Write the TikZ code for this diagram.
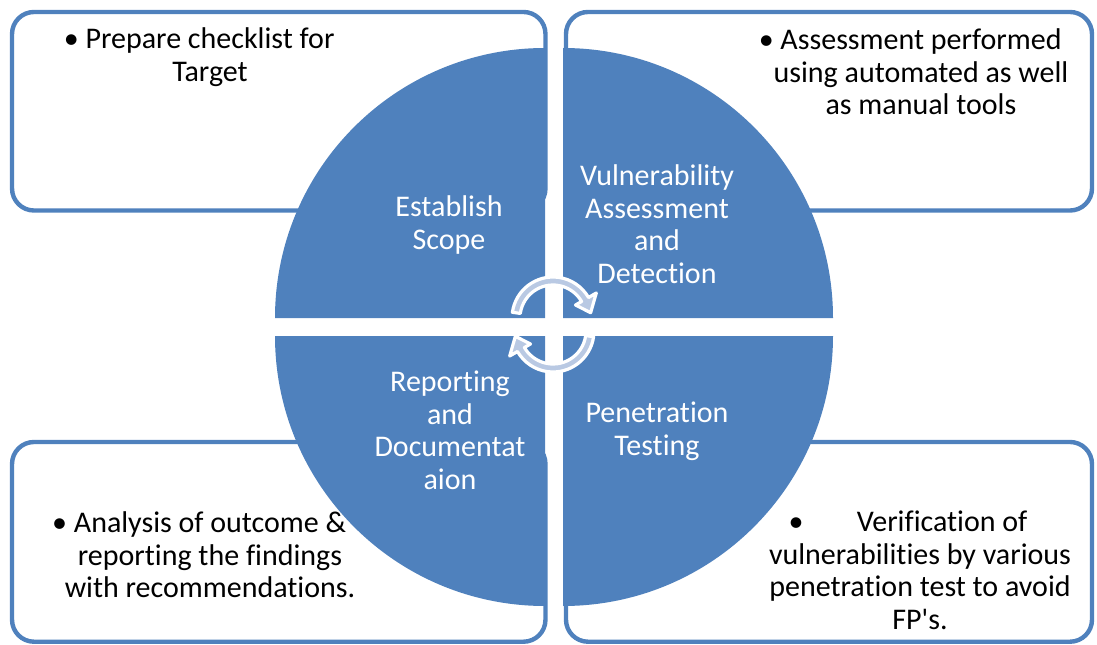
\documentclass[tikz,border=0pt]{standalone}
\usepackage{fontspec}
\setmainfont{Carlito}[Ligatures={TeXOff,NoCommon}]
\usepackage{tikz}
\definecolor{quadblue}{HTML}{4F81BD}
\definecolor{arrowfill}{HTML}{B9C9E3}
\newcommand{\hangbullet}{\llap{\textbullet\ }}

\begin{document}
\begin{tikzpicture}[x=0.75pt,y=0.75pt]
  \tikzstyle{infobox} = [rectangle, draw=quadblue, line width=3.3pt, rounded corners=16.5pt, fill=white, inner sep=0pt]
  \tikzstyle{quad} = [fill=quadblue]
  \tikzstyle{quadtext} = [text=white, align=center, font=\fontsize{22.5}{24.4}\selectfont]
  \tikzstyle{boxtext} = [text=black, align=center, font=\fontsize{22.5}{24.4}\selectfont]
  \tikzstyle{cyclearrow} = [fill=arrowfill, draw=white, line width=2.4pt, line join=round]
  \useasboundingbox (0,0) rectangle (1097,644);
  % outer boxes
  \node (scopebox) [infobox, minimum width=400.1pt, minimum height=148.9pt] at (278.75,532.75) {};
  \node (vulnbox) [infobox, minimum width=394.5pt, minimum height=148.9pt] at (829,532.75) {};
  \node (reportbox) [infobox, minimum width=400.1pt, minimum height=149.8pt] at (278.75,102.15) {};
  \node (penbox) [infobox, minimum width=394.5pt, minimum height=149.8pt] at (829,102.15) {};
  % quadrants of the circle
  \fill[quad] (545,326) -- (275,326) arc[start angle=180, end angle=90, radius=270] -- cycle;
  \fill[quad] (563,326) -- (563,596) arc[start angle=90, end angle=0, radius=270] -- cycle;
  \fill[quad] (545,308) -- (545,38) arc[start angle=270, end angle=180, radius=270] -- cycle;
  \fill[quad] (563,308) -- (833,308) arc[start angle=0, end angle=-90, radius=270] -- cycle;
  % cycle arrows
  \begin{scope}[shift={(553,326)}]
    \draw[cyclearrow] (172:41) arc[start angle=172, end angle=30, radius=41] -- (30:50) -- (8:38) -- (30:26) -- (30:33) arc[start angle=30, end angle=172, radius=33] -- cycle;
  \end{scope}
  \begin{scope}[shift={(553,313)}]
    \draw[cyclearrow] (352:41) arc[start angle=352, end angle=210, radius=41] -- (210:50) -- (188:38) -- (210:26) -- (210:33) arc[start angle=210, end angle=352, radius=33] -- cycle;
  \end{scope}
  % quadrant labels
  \node (scopetxt) [quadtext] at (449,419) {Establish\\Scope};
  \node (vulntxt) [quadtext] at (657,420) {Vulnerability\\Assessment\\and\\Detection};
  \node (reporttxt) [quadtext] at (450,213.5) {Reporting\\and\\Documentat\\aion};
  \node (pentxt) [quadtext] at (657,212.5) {Penetration\\Testing};
  % box notes
  \node (scopenote) [boxtext] at (210,587) {\hangbullet Prepare checklist for\\Target};
  \node (vulnnote) [boxtext] at (921,572) {\hangbullet Assessment performed\\using automated as well\\as manual tools};
  \node (reportnote) [boxtext] at (210,89) {\hangbullet Analysis of outcome \&\\reporting the findings\\with recommendations.};
  \node (pennote) [boxtext] at (920,73.5) {\textbullet\hspace{40pt}Verification of\hspace{18pt}\mbox{}\\vulnerabilities by various\\penetration test to avoid\\FP's.};
\end{tikzpicture}
\end{document}
